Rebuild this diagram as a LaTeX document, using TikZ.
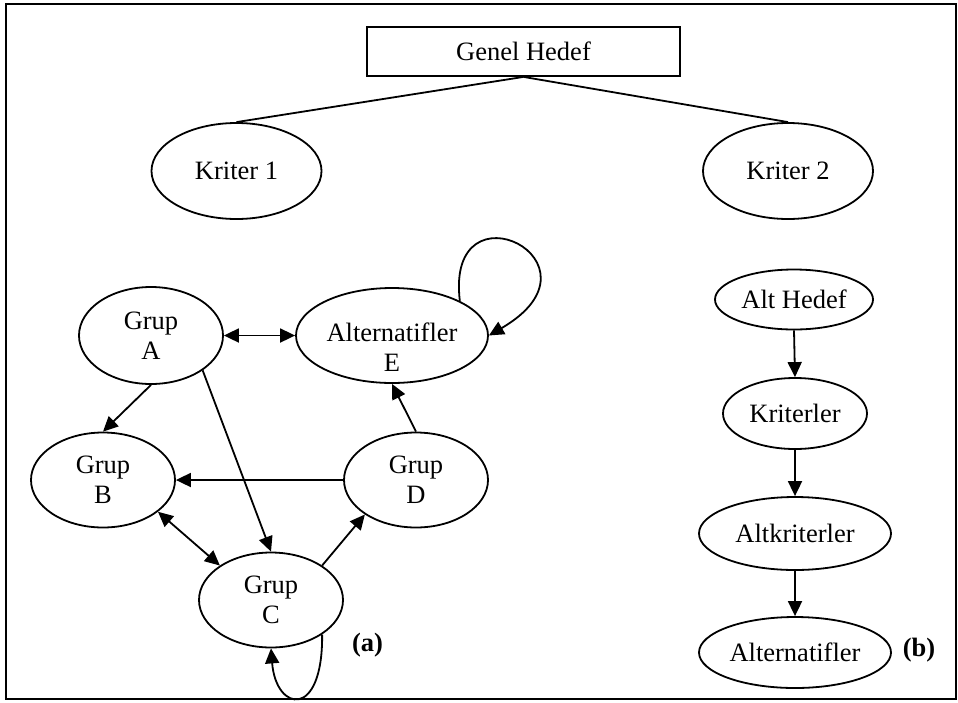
\documentclass[tikz,border=0pt]{standalone}
\usepackage{fontspec}
\setmainfont{Liberation Serif}
\usetikzlibrary{shapes.geometric,arrows.meta}
\begin{document}
\begin{tikzpicture}[x=1pt,y=-1pt,
  font=\fontsize{26.5}{30}\selectfont,
  line width=1.8pt,
  ell/.style={draw, ellipse, inner sep=0pt, align=center},
  txt/.style={inner sep=0pt, align=center},
  arr/.style={-{Triangle[length=15pt,width=14pt]}},
  darr/.style={{Triangle[length=15pt,width=14pt]}-{Triangle[length=15pt,width=14pt]}},
  lbl/.style={inner sep=0pt, font=\fontsize{26.5}{30}\selectfont\bfseries}]
\useasboundingbox (0,0) rectangle (958,702);
\draw[line width=2pt] (5.5,3.5) rectangle (956,698.5);

% top tree
\node[draw, rectangle, inner sep=0pt, minimum width=313pt, minimum height=49pt] (GH) at (523.5,51.5) {Genel Hedef};
\node[ell, minimum width=170pt, minimum height=96pt] (K1) at (236.5,171) {Kriter 1};
\node[ell, minimum width=170pt, minimum height=96pt] (K2) at (788,171) {Kriter 2};
\draw (GH.south) -- (K1.north);
\draw (GH.south) -- (K2.north);

% (a) network
\node[ell, minimum width=144pt, minimum height=97pt] (A) at (151,335.5) {Grup\\A};
\node[ell, minimum width=192pt, minimum height=95pt] (E) at (392,335.5) {};
\node[txt] (Et) at (392,347) {Alternatifler\\E};
\node[ell, minimum width=144pt, minimum height=95pt] (B) at (103,480) {Grup\\B};
\node[ell, minimum width=144pt, minimum height=95pt] (D) at (416,480) {Grup\\D};
\node[ell, minimum width=144pt, minimum height=95pt] (C) at (271,600) {Grup\\C};
\node[lbl] (la) at (367.5,645) {(a)};

\draw[darr] (A.east) -- (E.west);
\draw[arr] (A.south) -- (B.north);
\draw[arr] (A.-34) -- (C.north);
\draw[arr] (D.west) -- (B.east);
\draw[darr] (B.-30) -- (C.146);
\draw[arr] (C.34) -- (D.-146);
\draw[arr] (D.north) -- (E.south);
\draw[arr] (E.27) .. controls (445,178) and (615,262) .. (E.east);
\draw[arr] (C.-34) .. controls (323,720) and (276,712) .. (C.south);

% (b) chain
\node[ell, minimum width=158pt, minimum height=60pt] (AH) at (794,299.5) {Alt Hedef};
\node[ell, minimum width=144pt, minimum height=71pt] (KR) at (795,413.5) {Kriterler};
\node[ell, minimum width=192pt, minimum height=73pt] (AK) at (795,533.5) {Altkriterler};
\node[ell, minimum width=192pt, minimum height=71pt] (AL) at (795,652.5) {Alternatifler};
\node[lbl] (lb) at (919,650) {(b)};

\draw[arr] (AH.south) -- (KR.north);
\draw[arr] (KR.south) -- (AK.north);
\draw[arr] (AK.south) -- (AL.north);
\end{tikzpicture}
\end{document}
